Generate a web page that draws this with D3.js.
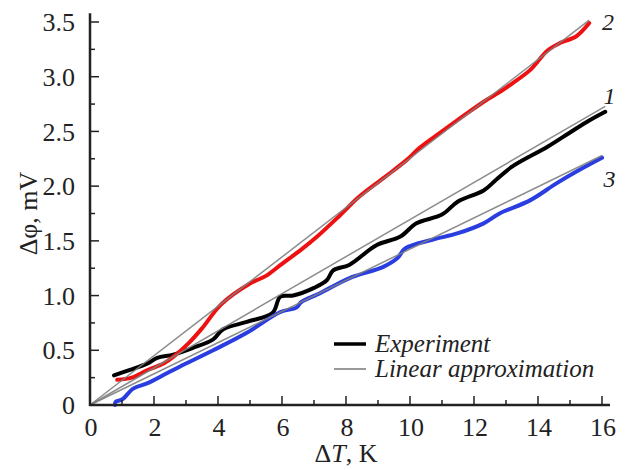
<!DOCTYPE html>
<html>
<head>
<meta charset="utf-8">
<script src="https://cdn.jsdelivr.net/npm/d3@7"></script>
<style>
  body { margin: 0; background: #fff; }
  text { font-family: "Liberation Serif", "Times New Roman", Times, serif; fill: #222; }
</style>
</head>
<body>
<figure id="chart" style="margin:0"></figure>
<script>
// data, dT in K and dphi in mV

// curve 1 (black)
var x1 = [0.75, 1.25, 1.8, 2.1, 2.6, 3.2, 3.85, 4.15, 4.9, 5.7, 5.95, 6.35, 7.0, 7.4, 7.6, 8.1, 8.95, 9.7, 10.2, 11.0, 11.5, 12.3, 12.7, 13.2, 14.3, 15.0, 15.6, 16.1];
var y1 = [0.27, 0.32, 0.38, 0.43, 0.46, 0.52, 0.6, 0.69, 0.76, 0.84, 0.99, 1.0, 1.07, 1.14, 1.23, 1.28, 1.46, 1.54, 1.66, 1.74, 1.86, 1.96, 2.06, 2.18, 2.36, 2.49, 2.6, 2.68];

// curve 2 (red)
var x2 = [0.85, 1.3, 1.8, 2.3, 2.6, 3.1, 3.5, 4.1, 5.0, 5.5, 6.0, 6.6, 7.1, 7.8, 8.4, 9.2, 9.9, 10.3, 11.0, 11.8, 12.4, 12.8, 13.2, 13.75, 14.3, 14.7, 15.2, 15.6];
var y2 = [0.23, 0.25, 0.32, 0.38, 0.44, 0.57, 0.7, 0.92, 1.11, 1.18, 1.29, 1.42, 1.54, 1.73, 1.9, 2.08, 2.24, 2.35, 2.5, 2.67, 2.79, 2.86, 2.94, 3.06, 3.24, 3.31, 3.37, 3.49];

// curve 3 (blue)
var x3 = [0.78, 0.8, 1.0, 1.35, 1.8, 2.4, 2.8, 3.85, 4.9, 5.95, 6.45, 6.6, 7.1, 7.5, 8.2, 9.15, 9.6, 9.85, 10.7, 11.5, 12.3, 12.8, 13.75, 14.6, 15.3, 16.0];
var y3 = [0.0, 0.03, 0.05, 0.15, 0.2, 0.29, 0.35, 0.5, 0.66, 0.85, 0.89, 0.94, 1.01, 1.07, 1.17, 1.26, 1.34, 1.43, 1.51, 1.57, 1.66, 1.75, 1.87, 2.03, 2.15, 2.26];

// linear fits through the origin: slope and last x
var curveNames = ["1", "2", "3"];
var fitSlopes = [0.1695, 0.2255, 0.1425];
var fitEnds = [16.1, 15.6, 16.0];
var curveColors = ["#000000", "#ee1111", "#2a3de0"];

var xTicks = [0, 2, 4, 6, 8, 10, 12, 14, 16];
var yTicks = [0, 0.5, 1.0, 1.5, 2.0, 2.5, 3.0, 3.5];

var dimensions = {
    width: 637,
    height: 470,
    margin: { top: 22, right: 35, bottom: 65, left: 90 }
};
dimensions.boundedWidth = dimensions.width - dimensions.margin.left - dimensions.margin.right;
dimensions.boundedHeight = dimensions.height - dimensions.margin.top - dimensions.margin.bottom;

var svg = d3.select("figure#chart")
    .append("svg")
    .attr("width", dimensions.width)
    .attr("height", dimensions.height)
    .append("g")
    .attr("transform", `translate(${dimensions.margin.left},${dimensions.margin.top})`);

var xScale = d3.scaleLinear().domain([0, 16]).range([0, 512]);
var yScale = d3.scaleLinear().domain([0, 3.5]).range([dimensions.boundedHeight, 0]);

// series into point lists
var series = [[x1, y1], [x2, y2], [x3, y3]].map(function(s, i) {
    return {
        name: curveNames[i],
        color: curveColors[i],
        points: s[0].map((x, j) => ({ x: x, y: s[1][j] }))
    };
});

var line = d3.line()
    .x(d => xScale(d.x))
    .y(d => yScale(d.y))
    .curve(d3.curveCatmullRom);

// experiment curves
svg.selectAll("path.exp")
    .data(series)
    .enter()
    .append("path")
    .attr("class", "exp")
    .attr("d", d => line(d.points))
    .attr("fill", "none")
    .attr("stroke", d => d.color)
    .attr("stroke-width", 4)
    .attr("stroke-linejoin", "round")
    .attr("stroke-linecap", "round");

// linear approximations on top
svg.selectAll("line.fit")
    .data(fitSlopes)
    .enter()
    .append("line")
    .attr("class", "fit")
    .attr("x1", xScale(0))
    .attr("y1", yScale(0))
    .attr("x2", (d, i) => xScale(fitEnds[i]))
    .attr("y2", (d, i) => yScale(d * fitEnds[i]))
    .attr("stroke", "#808080")
    .attr("stroke-opacity", 0.9)
    .attr("stroke-width", 1.5);

// curve numbers
var labelPos = [[16.05, 2.83], [16.0, 3.5], [16.05, 2.07]];
svg.selectAll("text.num")
    .data(curveNames)
    .enter()
    .append("text")
    .attr("class", "num")
    .attr("x", (d, i) => xScale(labelPos[i][0]))
    .attr("y", (d, i) => yScale(labelPos[i][1]))
    .attr("font-size", 24)
    .attr("font-style", "italic")
    .attr("dy", "0.35em")
    .text(d => d);

// axes, ticks point inward
var xAxis = svg.append("g")
    .attr("transform", `translate(0,${dimensions.boundedHeight})`);
xAxis.append("line")
    .attr("x1", -1).attr("x2", xScale(16.25))
    .attr("stroke", "#222").attr("stroke-width", 2.5);
xAxis.selectAll("line.minor")
    .data(d3.range(1, 16, 2))
    .enter().append("line")
    .attr("x1", d => xScale(d)).attr("x2", d => xScale(d))
    .attr("y1", 0).attr("y2", -5)
    .attr("stroke", "#222").attr("stroke-width", 1.5);
xAxis.selectAll("line.major")
    .data(xTicks.slice(1))
    .enter().append("line")
    .attr("x1", d => xScale(d)).attr("x2", d => xScale(d))
    .attr("y1", 0).attr("y2", -9)
    .attr("stroke", "#222").attr("stroke-width", 1.5);
xAxis.selectAll("text")
    .data(xTicks)
    .enter().append("text")
    .attr("x", d => xScale(d) + 1)
    .attr("y", 31)
    .attr("text-anchor", "middle")
    .attr("font-size", 26)
    .text(d => d);

var yAxis = svg.append("g");
yAxis.append("line")
    .attr("y1", yScale(0) + 1).attr("y2", yScale(3.58))
    .attr("stroke", "#222").attr("stroke-width", 2.5);
yAxis.selectAll("line.minor")
    .data(d3.range(0.25, 3.5, 0.5))
    .enter().append("line")
    .attr("y1", d => yScale(d)).attr("y2", d => yScale(d))
    .attr("x1", 0).attr("x2", 5)
    .attr("stroke", "#222").attr("stroke-width", 1.5);
yAxis.selectAll("line.major")
    .data(yTicks.slice(1))
    .enter().append("line")
    .attr("y1", d => yScale(d)).attr("y2", d => yScale(d))
    .attr("x1", 0).attr("x2", 9)
    .attr("stroke", "#222").attr("stroke-width", 1.5);
yAxis.selectAll("text")
    .data(yTicks)
    .enter().append("text")
    .attr("x", -15)
    .attr("y", d => yScale(d))
    .attr("dy", "0.35em")
    .attr("text-anchor", "end")
    .attr("font-size", 26)
    .text(d => d === 0 ? "0" : d3.format(".1f")(d));

// axis titles
var xTitle = svg.append("text")
    .attr("x", 256)
    .attr("y", dimensions.boundedHeight + 57)
    .attr("text-anchor", "middle")
    .attr("font-size", 26);
xTitle.append("tspan").text("Δ");
xTitle.append("tspan").attr("font-style", "italic").text("T");
xTitle.append("tspan").text(", K");

svg.append("text")
    .attr("transform", `translate(-53,${yScale(1.75)}) rotate(-90)`)
    .attr("text-anchor", "middle")
    .attr("font-size", 26)
    .text("Δφ, mV");

// legend
var legend = svg.append("g").attr("transform", "translate(244,322)");
var legendItems = [["Experiment", "#000", 3.5], ["Linear approximation", "#999", 2]];
legendItems.forEach(function(d, i) {
    legend.append("line")
        .attr("x1", 0).attr("x2", 32)
        .attr("y1", i * 25).attr("y2", i * 25)
        .attr("stroke", d[1]).attr("stroke-width", d[2]);
    legend.append("text")
        .attr("x", 41)
        .attr("y", i * 25)
        .attr("dy", "0.3em")
        .attr("font-size", 25)
        .attr("font-style", "italic")
        .text(d[0]);
});
</script>
</body>
</html>
